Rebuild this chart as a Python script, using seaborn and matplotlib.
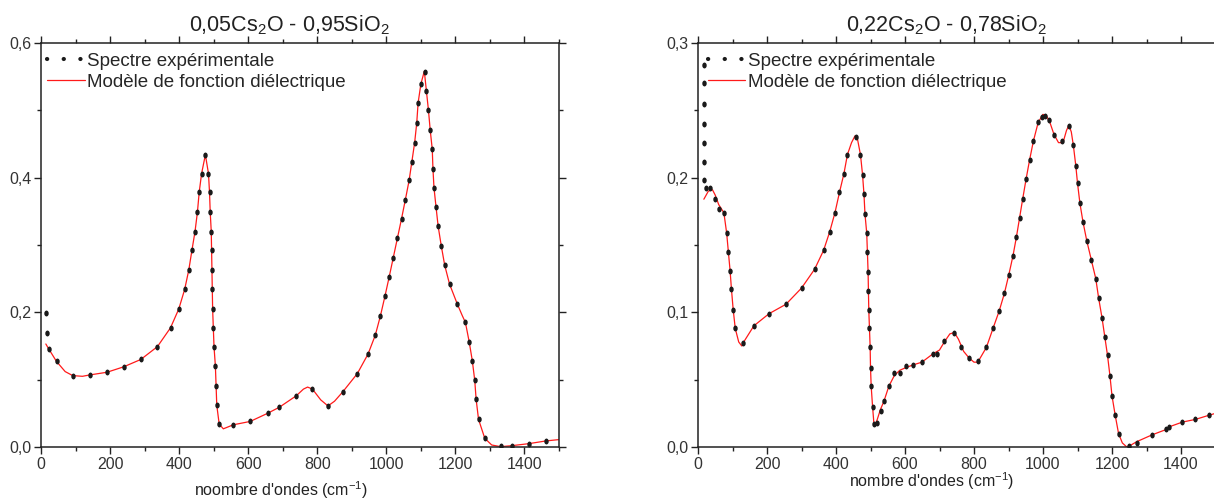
import numpy as np
import matplotlib
matplotlib.use('Agg')
import matplotlib.pyplot as plt
import seaborn as sns
from matplotlib.lines import Line2D
from matplotlib.path import Path
from matplotlib.transforms import Affine2D
from matplotlib.ticker import MultipleLocator, FuncFormatter

sns.set_theme(style='ticks')
plt.rcParams['font.family'] = ['Liberation Sans', 'DejaVu Sans']
plt.rcParams['mathtext.default'] = 'regular'

# --- data: 0,05Cs2O - 0,95SiO2 ---
left_exp_x = [14, 16, 22, 45, 92, 141, 191, 239, 289, 337,
              375, 399, 416, 428, 437, 446, 453, 458, 465, 476,
              485, 488, 490, 493, 494, 495, 496, 497, 499, 501,
              505, 507, 509, 516, 557, 606, 656, 690, 739, 786,
              831, 874, 916, 947, 968, 983, 996, 1008, 1020, 1032,
              1044, 1055, 1066, 1074, 1082, 1088, 1092, 1100, 1111, 1116,
              1122, 1127, 1133, 1135, 1138, 1144, 1150, 1159, 1169, 1183,
              1205, 1229, 1240, 1249, 1256, 1259, 1267, 1285, 1331, 1364,
              1413, 1462]
left_exp_y = [0.199, 0.170, 0.146, 0.127, 0.106, 0.107, 0.111, 0.119, 0.130, 0.149,
              0.177, 0.205, 0.234, 0.263, 0.292, 0.320, 0.349, 0.378, 0.406, 0.434,
              0.406, 0.378, 0.349, 0.320, 0.292, 0.263, 0.234, 0.205, 0.177, 0.149,
              0.120, 0.091, 0.062, 0.034, 0.033, 0.038, 0.050, 0.059, 0.076, 0.086,
              0.061, 0.082, 0.109, 0.138, 0.166, 0.195, 0.224, 0.252, 0.281, 0.310,
              0.339, 0.367, 0.396, 0.424, 0.452, 0.481, 0.511, 0.539, 0.557, 0.529,
              0.500, 0.471, 0.442, 0.413, 0.385, 0.356, 0.328, 0.299, 0.270, 0.242,
              0.213, 0.185, 0.156, 0.128, 0.099, 0.071, 0.041, 0.013, 0.0015, 0.002,
              0.005, 0.009]

left_mod_x = [14, 22, 45, 70, 92, 120, 141, 191, 239, 289, 337, 375, 399, 416, 428,
              437, 446, 453, 458, 465, 476, 485, 488, 490, 493, 494, 495, 496, 497,
              499, 501, 505, 507, 509, 516, 528, 557, 606, 656, 690, 739, 760, 772,
              786, 810, 831, 850, 874, 916, 947, 968, 983, 996, 1008, 1020, 1032,
              1044, 1055, 1066, 1074, 1082, 1088, 1092, 1100, 1110, 1116, 1122, 1127,
              1133, 1135, 1138, 1144, 1150, 1159, 1169, 1183, 1205, 1220, 1229, 1240,
              1249, 1256, 1260, 1267, 1285, 1305, 1331, 1364, 1413, 1462, 1500]
left_mod_y = [0.153, 0.146, 0.127, 0.112, 0.106, 0.105, 0.107, 0.111, 0.119, 0.130,
              0.149, 0.177, 0.205, 0.234, 0.263, 0.292, 0.320, 0.349, 0.378, 0.406,
              0.434, 0.406, 0.378, 0.349, 0.320, 0.292, 0.263, 0.234, 0.205, 0.177,
              0.149, 0.120, 0.091, 0.062, 0.034, 0.027, 0.033, 0.038, 0.050, 0.059,
              0.076, 0.086, 0.089, 0.086, 0.070, 0.061, 0.068, 0.082, 0.109, 0.138,
              0.166, 0.195, 0.224, 0.252, 0.281, 0.310, 0.339, 0.367, 0.396, 0.424,
              0.452, 0.481, 0.511, 0.539, 0.558, 0.529, 0.500, 0.471, 0.442, 0.413,
              0.385, 0.356, 0.328, 0.299, 0.270, 0.242, 0.213, 0.195, 0.185, 0.156,
              0.128, 0.099, 0.071, 0.041, 0.013, 0.003, 0.0005, 0.002, 0.005, 0.009,
              0.011]

# --- data: 0,22Cs2O - 0,78SiO2 ---
right_exp_x = [17, 17, 17, 17, 17, 18, 18, 23, 34, 50,
               60, 75, 83, 88, 93, 97, 102, 108, 130, 162,
               206, 255, 300, 338, 364, 382, 397, 410, 423, 433,
               457, 471, 477, 481, 484, 489, 491, 493, 494, 495,
               497, 499, 500, 502, 506, 510, 519, 529, 539, 553,
               569, 585, 603, 624, 649, 680, 692, 714, 743, 762,
               786, 811, 836, 855, 873, 888, 901, 913, 923, 932,
               941, 951, 961, 972, 986, 996, 1006, 1016, 1032, 1054,
               1075, 1088, 1095, 1100, 1107, 1116, 1127, 1140, 1153, 1161,
               1171, 1179, 1187, 1194, 1200, 1209, 1219, 1249, 1272, 1316,
               1357, 1366, 1404, 1442, 1480]
right_exp_y = [0.284, 0.270, 0.255, 0.240, 0.226, 0.212, 0.198, 0.192, 0.192, 0.184,
               0.177, 0.174, 0.159, 0.145, 0.131, 0.117, 0.102, 0.088, 0.077, 0.090,
               0.099, 0.106, 0.118, 0.132, 0.146, 0.160, 0.174, 0.189, 0.203, 0.217,
               0.230, 0.217, 0.202, 0.188, 0.173, 0.159, 0.145, 0.130, 0.116, 0.102,
               0.088, 0.074, 0.059, 0.045, 0.030, 0.017, 0.018, 0.027, 0.034, 0.045,
               0.055, 0.055, 0.060, 0.061, 0.063, 0.069, 0.069, 0.079, 0.085, 0.074,
               0.066, 0.064, 0.074, 0.088, 0.101, 0.114, 0.128, 0.142, 0.156, 0.170,
               0.184, 0.199, 0.213, 0.227, 0.241, 0.245, 0.246, 0.243, 0.232, 0.227,
               0.238, 0.224, 0.209, 0.196, 0.181, 0.167, 0.153, 0.139, 0.125, 0.111,
               0.096, 0.082, 0.068, 0.053, 0.038, 0.024, 0.010, 0.001, 0.003, 0.009,
               0.013, 0.015, 0.0185, 0.0205, 0.0235]

right_mod_x = [17, 30, 42, 50, 60, 75, 83, 88, 93, 97, 102, 108, 118, 127, 135, 162,
               206, 255, 300, 338, 364, 382, 397, 410, 423, 433, 445, 455, 462, 471,
               477, 481, 484, 489, 491, 493, 494, 495, 497, 499, 500, 502, 506, 510,
               513, 519, 529, 539, 553, 569, 585, 603, 624, 649, 680, 700, 714, 730,
               743, 755, 770, 786, 800, 811, 836, 855, 873, 888, 901, 913, 923, 932,
               941, 951, 961, 972, 986, 1000, 1010, 1020, 1032, 1045, 1058, 1068,
               1075, 1082, 1088, 1095, 1100, 1107, 1116, 1127, 1140, 1153, 1161, 1171,
               1179, 1187, 1194, 1200, 1209, 1219, 1230, 1243, 1252, 1272, 1316, 1357,
               1366, 1404, 1442, 1480, 1500]
right_mod_y = [0.184, 0.190, 0.191, 0.187, 0.180, 0.174, 0.159, 0.145, 0.131, 0.117,
               0.102, 0.088, 0.078, 0.075, 0.079, 0.090, 0.099, 0.106, 0.118, 0.132,
               0.146, 0.160, 0.174, 0.189, 0.203, 0.217, 0.226, 0.231, 0.229, 0.217,
               0.202, 0.188, 0.173, 0.159, 0.145, 0.130, 0.116, 0.102, 0.088, 0.074,
               0.059, 0.045, 0.030, 0.017, 0.016, 0.020, 0.028, 0.034, 0.045, 0.053,
               0.057, 0.059, 0.061, 0.063, 0.069, 0.072, 0.078, 0.084, 0.085, 0.080,
               0.071, 0.066, 0.063, 0.063, 0.074, 0.088, 0.101, 0.114, 0.128, 0.142,
               0.156, 0.170, 0.184, 0.199, 0.213, 0.227, 0.241, 0.247, 0.246, 0.241,
               0.232, 0.226, 0.226, 0.235, 0.239, 0.234, 0.224, 0.209, 0.196, 0.181,
               0.167, 0.153, 0.139, 0.125, 0.111, 0.096, 0.082, 0.068, 0.053, 0.038,
               0.024, 0.010, 0.003, 0.000, 0.001, 0.004, 0.009, 0.013, 0.015, 0.0185,
               0.0205, 0.0235, 0.025]

titles = [r'0,05Cs$_2$O - 0,95SiO$_2$', r'0,22Cs$_2$O - 0,78SiO$_2$']
xlabels = [r"noombre d'ondes (cm$^{-1}$)", r"nombre d'ondes (cm$^{-1}$)"]
legend_labels = ['Spectre expérimentale', 'Modèle de fonction diélectrique']

DOT = '#1a1a1a'
RED = '#ff1a1a'
INK = '#333333'

# vertically stretched dot, like the original export
dot_marker = Path.unit_circle().transformed(Affine2D().scale(0.75, 1.0))


def comma_fmt(v, pos):
    return f'{v:.1f}'.replace('.', ',')


def style_axes(ax, ymax, ymajor):
    ax.set_xlim(0, 1500)
    ax.set_ylim(0, ymax)
    ax.xaxis.set_major_locator(MultipleLocator(200))
    ax.xaxis.set_minor_locator(MultipleLocator(100))
    ax.yaxis.set_major_locator(MultipleLocator(ymajor))
    ax.yaxis.set_minor_locator(MultipleLocator(ymajor / 2))
    ax.yaxis.set_major_formatter(FuncFormatter(comma_fmt))
    ax.tick_params(which='both', direction='out', top=True, right=True,
                   labeltop=False, labelright=False, color='#222222', width=1.0)
    ax.tick_params(which='major', length=5, labelsize=11.5, labelcolor=INK, pad=2)
    ax.tick_params(which='minor', length=3)
    for sp in ax.spines.values():
        sp.set_color('#222222')
        sp.set_linewidth(1.1)
    ax.set_ylabel('')


def draw_panel(ax, ex, ey, mx, my, title, xlabel, ymax, ymajor, legx, labx, laby):
    sns.lineplot(x=mx, y=my, ax=ax, color=RED, linewidth=0.9, sort=False,
                 estimator=None, zorder=2)
    sns.scatterplot(x=ex, y=ey, ax=ax, color=DOT, marker=dot_marker, s=18,
                    linewidth=0, zorder=3)
    style_axes(ax, ymax, ymajor)
    ax.text(0.479, 1.028, title, transform=ax.transAxes, ha='center',
            va='baseline', fontsize=15.5, color='#222222')
    ax.set_xlabel(xlabel, fontsize=11.5, color='#222222')
    ax.xaxis.set_label_coords(labx, laby)
    ax.xaxis.label.set_va('center')
    handles = [
        Line2D([], [], color=DOT, linestyle=(0, (0.05, 3.95)), linewidth=3.0,
               dash_capstyle='round'),
        Line2D([], [], color=RED, linewidth=0.9),
    ]
    ax.legend(handles, legend_labels, loc='upper left', bbox_to_anchor=(legx, 0.985),
              frameon=False, fontsize=13.5, handlelength=2.0, handletextpad=0.12,
              borderaxespad=0, borderpad=0.2, labelspacing=0.2)


fig = plt.figure(figsize=(12.14, 5.01), dpi=100)
ax1 = fig.add_axes([41 / 1214, 54 / 501, 518 / 1214, 404 / 501])
ax2 = fig.add_axes([698 / 1214, 54 / 501, 517.5 / 1214, 404 / 501])

draw_panel(ax1, left_exp_x, left_exp_y, left_mod_x, left_mod_y, titles[0], xlabels[0],
           0.6, 0.2, 0.005, 0.464, -0.106)
draw_panel(ax2, right_exp_x, right_exp_y, right_mod_x, right_mod_y, titles[1], xlabels[1],
           0.3, 0.1, 0.012, 0.451, -0.084)

fig.savefig('out.png', dpi=100, facecolor='white')
